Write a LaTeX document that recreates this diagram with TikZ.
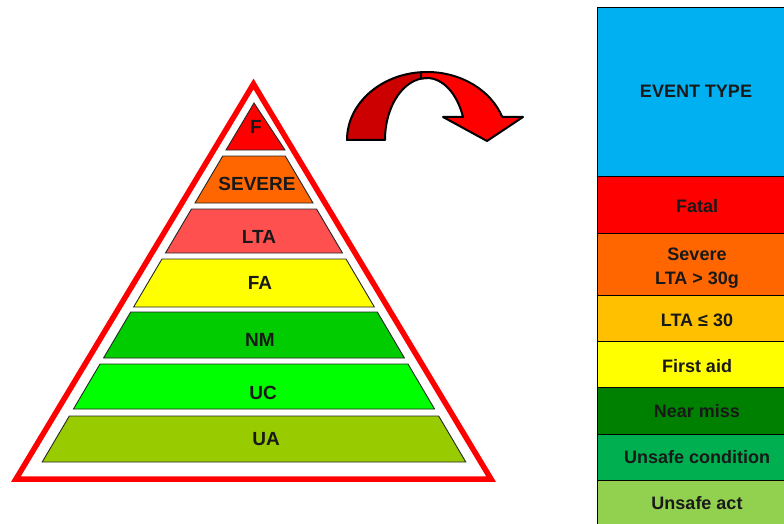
\documentclass[tikz,border=0pt]{standalone}
\usepackage{fontspec}
\setmainfont{Liberation Sans}
\begin{document}
\begin{tikzpicture}[x=1pt,y=-1pt,
  band/.style={draw=black!85,line width=0.9pt,line join=miter},
  lbl/.style={font=\fontsize{19}{21}\selectfont\bfseries,text=black!90,inner sep=0pt,anchor=base},
  rowbox/.style={draw=black,line width=1pt},
  rowtxt/.style={font=\fontsize{18}{20.5}\selectfont\bfseries,text=black!90,inner sep=0pt,anchor=base,align=center},
  arrowline/.style={draw=black,line width=2pt,line join=round}]
\definecolor{cF}{HTML}{FF0000}
\definecolor{cSev}{HTML}{FF6600}
\definecolor{cLTA}{HTML}{FF5050}
\definecolor{cFA}{HTML}{FFFF00}
\definecolor{cNM}{HTML}{00CC00}
\definecolor{cUC}{HTML}{00FF00}
\definecolor{cUA}{HTML}{99CC00}
\definecolor{tHead}{HTML}{00B0F0}
\definecolor{tFat}{HTML}{FF0000}
\definecolor{tSev}{HTML}{FF6600}
\definecolor{tLta}{HTML}{FFC000}
\definecolor{tFirst}{HTML}{FFFF00}
\definecolor{tNear}{HTML}{008000}
\definecolor{tCond}{HTML}{00B050}
\definecolor{tAct}{HTML}{92D050}
\definecolor{arrDark}{HTML}{CC0000}
\definecolor{arrLight}{HTML}{FF0000}

\useasboundingbox (0,0) rectangle (784,524);
\clip (0,0) rectangle (784,524);

% outer red triangle
\draw[red,line width=5.5pt,line join=miter] (253.5,84) -- (491,479) -- (16,479) -- cycle;

% pyramid bands: apex (254,103), edge slope 0.59 px per px
\newcommand{\pband}[3]{%
  \pgfmathsetmacro{\xlt}{254-0.59*(#1-103)}%
  \pgfmathsetmacro{\xrt}{254+0.59*(#1-103)}%
  \pgfmathsetmacro{\xlb}{254-0.59*(#2-103)}%
  \pgfmathsetmacro{\xrb}{254+0.59*(#2-103)}%
  \path[band,fill=#3] (\xlt,#1) -- (\xrt,#1) -- (\xrb,#2) -- (\xlb,#2) -- cycle;}
\path[band,fill=cF] (254,103) -- (285,150) -- (226,150) -- cycle;
\pband{156}{203}{cSev}
\pband{209}{253}{cLTA}
\pband{259}{307}{cFA}
\pband{312}{358}{cNM}
\pband{364}{409}{cUC}
\pband{416}{462}{cUA}

\node[lbl] (pF)   at (256,133) {F};
\node[lbl] (pSev) at (257,190) {SEVERE};
\node[lbl] (pLTA) at (259,243) {LTA};
\node[lbl] (pFA)  at (260,289) {FA};
\node[lbl] (pNM)  at (260,346) {NM};
\node[lbl] (pUC)  at (263,399) {UC};
\node[lbl] (pUA)  at (266,445) {UA};

% curved arrow (y axis points down, so 270 is the top of an arc)
\path[arrowline,fill=arrDark]
  (347,140) arc[start angle=180,end angle=270,x radius=80,y radius=68]
  -- (427,78) arc[start angle=270,end angle=180,x radius=42,y radius=62] -- cycle;
\path[arrowline,fill=arrLight]
  (421,72.3) -- (427,72) arc[start angle=270,end angle=340.2,x radius=80,y radius=68]
  -- (523,117) -- (487,141) -- (443,117) -- (463,117)
  arc[start angle=338.2,end angle=270,x radius=38.8,y radius=62] -- (421,78.5) -- cycle;

% event type table
\newcommand{\trow}[3]{\path[rowbox,fill=#3] (597,#1) rectangle (796,#2);}
\trow{8}{176}{tHead}
\trow{176}{233}{tFat}
\trow{233}{295}{tSev}
\trow{295}{341}{tLta}
\trow{341}{387}{tFirst}
\trow{387}{434}{tNear}
\trow{434}{480}{tCond}
\trow{480}{540}{tAct}

\node[rowtxt] (tH)  at (696,98)  {EVENT TYPE};
\node[rowtxt] (tF)  at (697,212) {Fatal};
\node[rowtxt] (tS1) at (697,260) {Severe};
\node[rowtxt] (tS2) at (697,284) {LTA > 30g};
\node[rowtxt] (tL)  at (697,326) {LTA ≤ 30};
\node[rowtxt] (tFA) at (697,372) {First aid};
\node[rowtxt] (tN)  at (697,417) {Near miss};
\node[rowtxt] (tC)  at (697,463) {Unsafe condition};
\node[rowtxt] (tA)  at (697,509) {Unsafe act};
\end{tikzpicture}
\end{document}
